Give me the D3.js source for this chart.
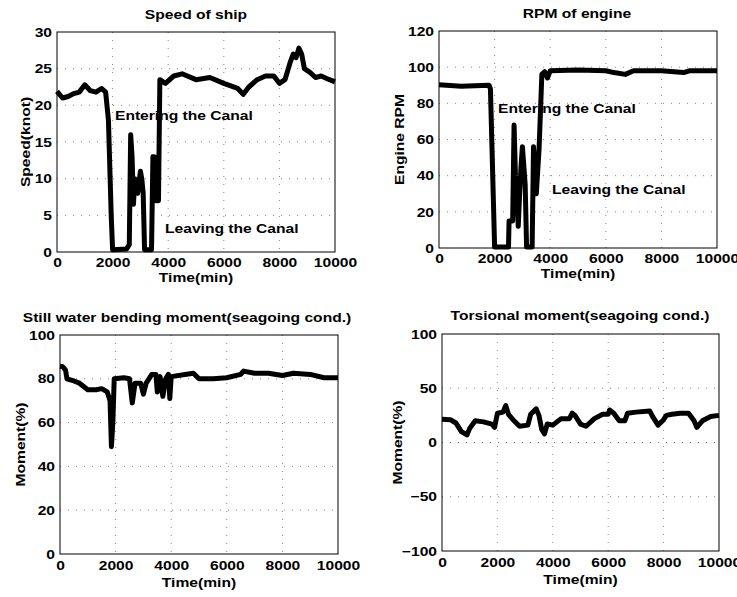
<!DOCTYPE html>
<html>
<head>
<meta charset="utf-8">
<script src="https://cdn.jsdelivr.net/npm/d3@7"></script>
<style>
  body { margin: 0; background: #fff; }
  text { font-family: "Liberation Sans", Arial, sans-serif; font-weight: bold; fill: #000; }
</style>
</head>
<body>
<div id="chart"></div>
<script>
// data (time in minutes)
var speedTime = [0,200,400,600,800,1000,1200,1400,1600,1750,1850,1950,2000,2500,2600,2650,2700,2750,2800,2900,3000,3050,3100,3150,3400,3450,3500,3550,3650,3700,3900,4200,4500,5000,5500,6000,6500,6700,6900,7200,7500,7800,8000,8200,8400,8500,8600,8700,8800,8900,9100,9300,9500,9800,10000]
var speedVal  = [21.9,21,21.2,21.6,21.8,22.8,22,21.8,22.3,21.8,18,5,0.3,0.4,1,16,13,6.5,10,8,11,10,8,0.3,0.3,13,13,7,7,23.5,23,24,24.3,23.5,23.8,23,22.3,21.5,22.5,23.5,24,24,23,23.5,26,27,26.5,27.8,27,25,24.5,23.8,24,23.5,23.2]

var rpmTime = [0,800,1800,1850,1950,2000,2500,2520,2650,2700,2750,2800,2850,2900,2950,3000,3100,3150,3350,3400,3500,3600,3700,3800,3900,4000,5000,6000,6300,6700,7000,8000,8800,9000,10000]
var rpmVal  = [90.3,89.5,90,88,30,0.5,0.5,15,15,68,40,33,12,30,45,56,35,0.5,0.5,56,30,55,96,97.5,94,98,98.5,98,97,96,98,98,97,98,98]

var bendTime = [0,100,200,250,500,700,1000,1300,1500,1700,1800,1850,1900,1950,2300,2500,2600,2700,2900,3000,3100,3200,3300,3450,3500,3600,3700,3800,3900,3950,4000,4500,4800,5000,5500,6000,6500,6600,7000,7500,8000,8400,9000,9500,10000]
var bendVal  = [85.7,85.5,84,80,79,78,75,75,75.5,74,70,49,60,80,80.5,80,69,78,78,73,78,80,82,82,74,81,72,80,82,71,81,82,82.5,80,80,80.5,82,83.5,82.5,82.5,81.5,82.5,82,80.5,80.5]

var torsTime = [0,300,500,700,900,1000,1200,1500,1800,1900,2000,2200,2300,2400,2600,2800,3100,3200,3400,3500,3600,3700,3800,4000,4300,4600,4700,4800,5000,5200,5500,5800,6000,6050,6200,6400,6600,6700,7000,7500,7600,7800,8000,8100,8300,8600,8900,9100,9200,9400,9700,10000]
var torsVal  = [21.4,21,18,10,7,13,20,19,17,14,27,28,34,26,20,15,16,26,31,25,12,8,17,16,22,22,27,25,17,15,22,26,26,30,27,20,20,27,28,29,24,16,21,25,26,27,27,20,14,20,24,25]

var xTicks = [0,2000,4000,6000,8000,10000]

var width = 737,
    height = 597

var svg = d3.select("#chart")
  .append("svg")
    .attr("width", width)
    .attr("height", height)

// each panel: plot box in pixels, y domain, ticks, labels
var panels = [
  {box: [57, 32, 335, 252], title: "Speed of ship", titleX: 196, titleY: 19,
   ylab: "Speed(knot)", ylabX: 25, tickPad: 6, xlabDy: 30, y: [0, 30], yTicks: [0,5,10,15,20,25,30],
   t: speedTime, v: speedVal,
   notes: [{x: 2086, y: 18, s: "Entering the Canal"}, {x: 3885, y: 2.6, s: "Leaving the Canal"}]},
  {box: [439, 31, 717, 248], title: "RPM of engine", titleX: 577, titleY: 18,
   ylab: "Engine RPM", ylabX: 399, tickPad: 6, xlabDy: 30, y: [0, 120], yTicks: [0,20,40,60,80,100,120],
   t: rpmTime, v: rpmVal,
   notes: [{x: 2122, y: 74.6, s: "Entering the Canal"}, {x: 4065, y: 29.9, s: "Leaving the Canal"}]},
  {box: [60, 335, 338, 554], title: "Still water bending moment(seagoing cond.)", titleX: 187, titleY: 322,
   ylab: "Moment(%)", ylabX: 20, tickPad: 7, xlabDy: 33, y: [0, 100], yTicks: [0,20,40,60,80,100],
   t: bendTime, v: bendVal, notes: []},
  {box: [442, 334, 719, 551], title: "Torsional moment(seagoing cond.)", titleX: 580, titleY: 320,
   ylab: "Moment(%)", ylabX: 397, tickPad: 7, xlabDy: 33, y: [-100, 100], yTicks: [-100,-50,0,50,100],
   t: torsTime, v: torsVal, notes: []}
]

panels.forEach(function(p) {
  var x0 = p.box[0], y0 = p.box[1], x1 = p.box[2], y1 = p.box[3]
  var x = d3.scaleLinear().domain([0, 10000]).range([x0, x1])
  var y = d3.scaleLinear().domain(p.y).range([y1, y0])
  var g = svg.append("g")

  // dotted grid
  g.selectAll(".gx").data(xTicks.slice(1, -1)).enter().append("line")
    .attr("x1", d => x(d)).attr("x2", d => x(d))
    .attr("y1", y0).attr("y2", y1)
    .attr("stroke", "#888").attr("stroke-width", 1).attr("stroke-dasharray", "1,7")
  g.selectAll(".gy").data(p.yTicks.slice(1, -1)).enter().append("line")
    .attr("x1", x0).attr("x2", x1)
    .attr("y1", d => y(d)).attr("y2", d => y(d))
    .attr("stroke", "#888").attr("stroke-width", 1).attr("stroke-dasharray", "1,7")

  // axes, labels outside, no tick marks
  g.append("g")
    .attr("transform", "translate(0," + y1 + ")")
    .call(d3.axisBottom(x).tickValues(xTicks).tickSize(0).tickPadding(p.tickPad).tickFormat(d3.format("d")))
    .call(a => a.select(".domain").remove())
    .selectAll("text").style("font-size", "13px")
  g.append("g")
    .attr("transform", "translate(" + x0 + ",0)")
    .call(d3.axisLeft(y).tickValues(p.yTicks).tickSize(0).tickPadding(5).tickFormat(d3.format("d")))
    .call(a => a.select(".domain").remove())
    .selectAll("text").style("font-size", "13px")

  // annotations go under the line
  p.notes.forEach(function(n) {
    g.append("text").attr("x", x(n.x)).attr("y", y(n.y))
      .style("font-size", "13px").text(n.s)
  })

  var line = d3.line().x(d => x(d[0])).y(d => y(d[1]))
  g.append("path")
    .datum(p.t.map((t, i) => [t, p.v[i]]))
    .attr("d", line)
    .attr("fill", "none").attr("stroke", "#000")
    .attr("stroke-width", 5).attr("stroke-linejoin", "round")

  g.append("rect")
    .attr("x", x0).attr("y", y0).attr("width", x1 - x0).attr("height", y1 - y0)
    .attr("fill", "none").attr("stroke", "#000").attr("stroke-width", 1)

  g.append("text").attr("x", p.titleX).attr("y", p.titleY)
    .attr("text-anchor", "middle").style("font-size", "13px").text(p.title)
  g.append("text").attr("x", (x0 + x1) / 2).attr("y", y1 + p.xlabDy)
    .attr("text-anchor", "middle").style("font-size", "13px").text("Time(min)")
  g.append("text")
    .attr("transform", "translate(" + p.ylabX + "," + (y0 + y1) / 2 + ") rotate(-90)")
    .attr("text-anchor", "middle").attr("dy", "0.35em").style("font-size", "13px").text(p.ylab)
})

// the scanned lettering is wider than Liberation Sans
svg.selectAll("text").each(function() {
  var w = this.getComputedTextLength()
  d3.select(this).attr("textLength", w * 1.2).attr("lengthAdjust", "spacingAndGlyphs")
})
</script>
</body>
</html>
